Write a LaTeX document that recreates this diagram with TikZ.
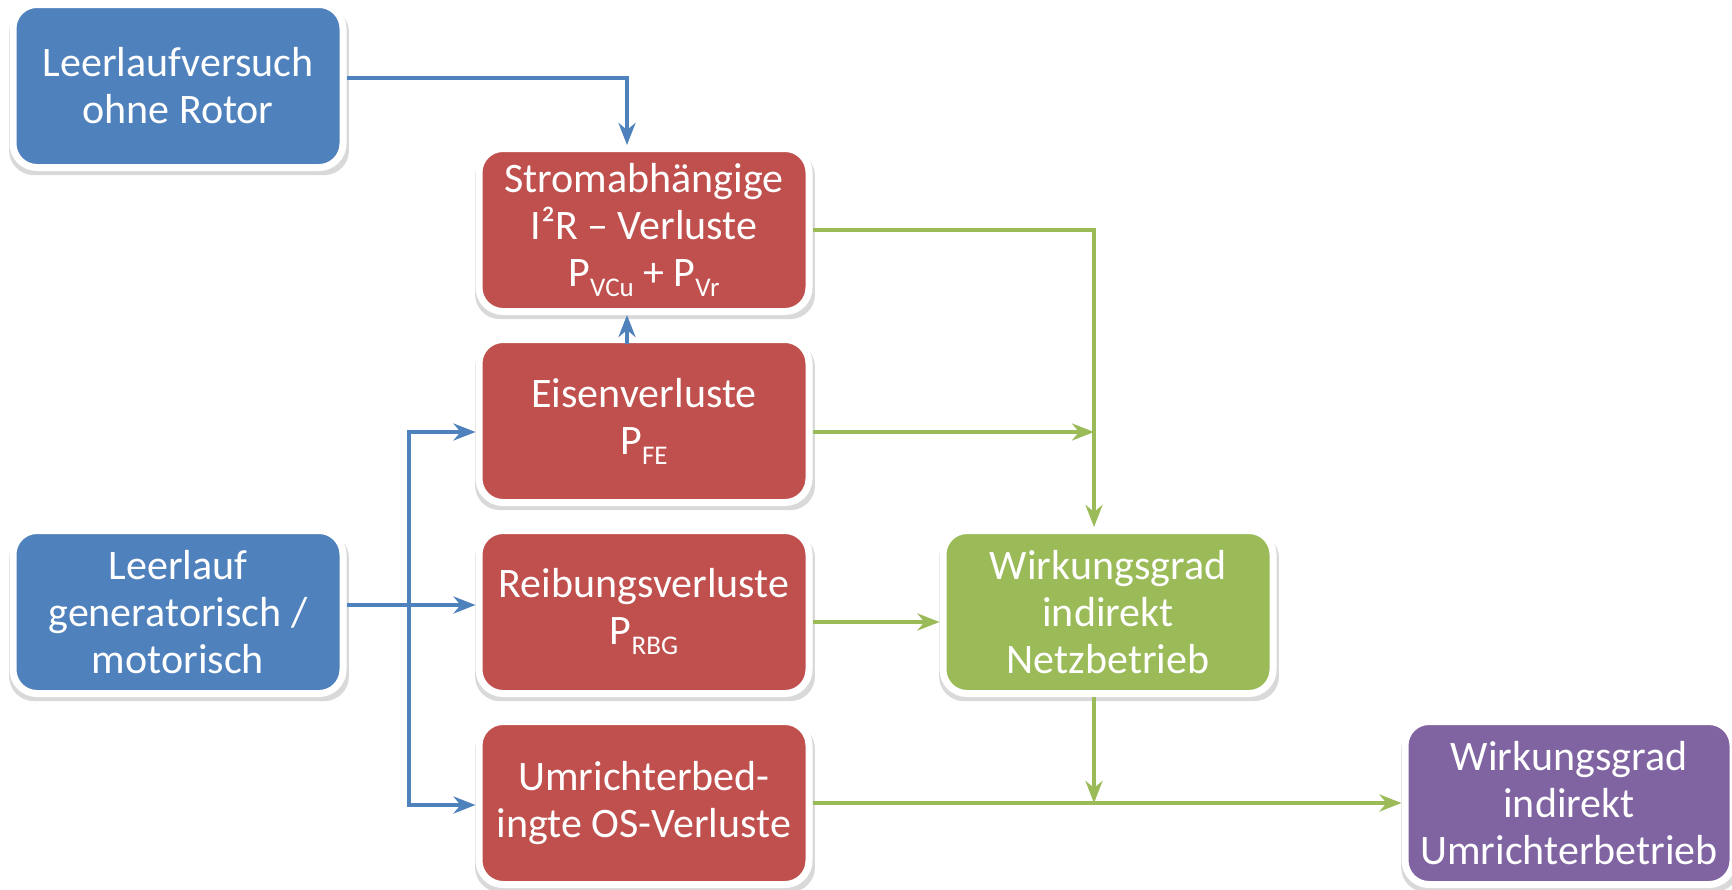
\documentclass[tikz,border=0pt]{standalone}
\usepackage{fontspec}
\setmainfont{Carlito}
\usetikzlibrary{arrows.meta,shadows}
\definecolor{cblue}{HTML}{4F81BD}
\definecolor{cred}{HTML}{C0504D}
\definecolor{cgreen}{HTML}{9BBB59}
\definecolor{cpurple}{HTML}{8064A2}
\newcommand{\sbt}[1]{\raisebox{-10pt}{\fontsize{27}{27}\selectfont #1}}
\begin{document}
\begin{tikzpicture}[x=1pt,y=-1pt,
  box/.style={rectangle, rounded corners=24pt, draw=white, line width=7pt,
    minimum width=330pt, minimum height=163pt, inner sep=0pt, align=center,
    text=white, font=\fontsize{42}{47}\selectfont,
    drop shadow={shadow xshift=1pt, shadow yshift=-5pt, shadow scale=1.03, opacity=0.15, fill=black}},
  bluebox/.style={box, fill=cblue},
  redbox/.style={box, fill=cred},
  greenbox/.style={box, fill=cgreen},
  purplebox/.style={box, fill=cpurple},
  tip/.style={-{Stealth[length=22pt,width=17pt,inset=7pt]}},
  bline/.style={draw=cblue, line width=4pt, line join=miter},
  gline/.style={draw=cgreen, line width=4.5pt, line join=miter}]
\useasboundingbox (0,0) rectangle (1732,889);

\node[bluebox]   (b1) at (178,86)  {Leerlaufversuch\\ohne Rotor};
\node[redbox]    (r1) at (644,230) {Stromabhängige\\I²R – Verluste\\P\sbt{VCu} + P\sbt{Vr}};
\node[redbox]    (r2) at (644,421) {Eisenverluste\\P\sbt{FE}};
\node[redbox]    (r3) at (644,612) {Reibungsverluste\\P\sbt{RBG}};
\node[redbox]    (r4) at (644,803) {Umrichterbed-\\ingte OS-Verluste};
\node[bluebox]   (b2) at (178,612) {Leerlauf\\generatorisch /\\motorisch};
\node[greenbox]  (gn) at (1108,612) {Wirkungsgrad\\indirekt\\Netzbetrieb};
\node[purplebox, minimum width=328pt] (pu) at (1569,803) {Wirkungsgrad\\indirekt\\Umrichterbetrieb};

\coordinate (gv) at ([xshift=-14pt]gn.north);
\coordinate (bt) at (409,432);
\coordinate (bb) at (409,805);

% blue connectors
\draw[bline,tip] ([yshift=8pt]b1.east) -| ([xshift=-17pt]r1.north);
\draw[bline,tip] ([xshift=-17pt,yshift=-8pt]r2.north) -- ([xshift=-17pt]r1.south);
\draw[bline,tip] ([yshift=7pt]b2.east) -- ([yshift=7pt]r3.west);
\draw[bline,{Stealth[length=22pt,width=17pt,inset=7pt]}-{Stealth[length=22pt,width=17pt,inset=7pt]}]
  (bt -| r2.west) -- (bt) -- (bb) -- (bb -| r4.west);

% green connectors
\draw[gline,tip] (r1.east) -| (gv);
\draw[gline,tip] ([yshift=-11pt]r2.east) -- ([yshift=-11pt]r2.east -| gv);
\draw[gline,tip] ([yshift=-10pt]r3.east) -- ([yshift=-10pt]r3.east -| gn.west);
\draw[gline,tip] (r4.east) -- (r4.east -| pu.west);
\draw[gline,tip] (gv |- gn.south) -- (gv |- r4.east);
\end{tikzpicture}
\end{document}
